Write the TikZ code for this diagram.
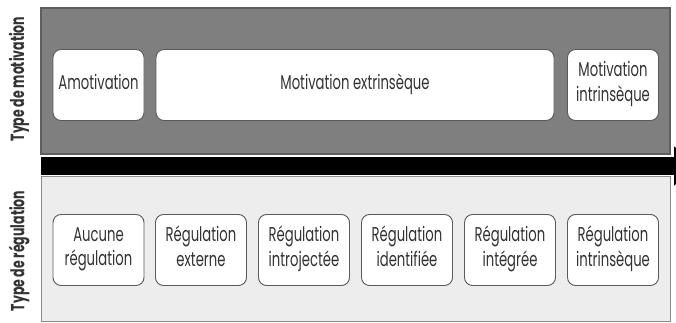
\documentclass[tikz,border=0pt]{standalone}
\usepackage{fontspec}
\setmainfont[FakeStretch=0.66]{Poppins}
\usepackage{xcolor}
\usepackage{tikz}
\usetikzlibrary{arrows.meta}
\definecolor{ink}{HTML}{333333}
\definecolor{bandtop}{HTML}{7F7F7F}
\definecolor{bandtopline}{HTML}{5E5E5E}
\definecolor{bandlow}{HTML}{EDEDED}
\definecolor{bandlowline}{HTML}{8C8C8C}
\definecolor{cellline}{HTML}{5A5A5A}
\tikzset{
  topband/.style={fill=bandtop, draw=bandtopline, line width=1.2pt},
  lowband/.style={fill=bandlow, draw=bandlowline, line width=0.9pt},
  cell/.style={draw=cellline, fill=white, rounded corners=8pt, line width=0.9pt,
    minimum height=71pt, inner sep=0pt, align=center, text=ink,
    font=\fontsize{20}{24.5}\selectfont,
    execute at begin node=\strut, execute at end node=\strut},
  side/.style={rotate=90, text=ink, font=\bfseries\fontsize{19}{22}\selectfont},
  flow/.style={draw=black, line width=18pt, -{Triangle[length=22pt,width=38pt]}},
}
\begin{document}
\begin{tikzpicture}[x=1pt,y=-1pt]
  \useasboundingbox (0,0) rectangle (676,323);
  % bands
  \draw[topband] (41,8) rectangle (670,154);
  \draw[lowband] (41,176) rectangle (670,321);
  \coordinate (flowstart) at (41,166);
  \coordinate (flowend) at (696,166);
  \draw[flow] (flowstart) -- (flowend);
  % side labels
  \node[side] (typemot) at (19,79) {Type de motivation};
  \node[side] (typereg) at (19,251) {Type de régulation};
  % type of motivation
  \node[cell, minimum width=91pt]  (amot) at (98.5,85) {Amotivation};
  \node[cell, minimum width=398pt] (extr) at (355,85) {Motivation extrinsèque};
  \node[cell, minimum width=91pt]  (intr) at (613,85) {Motivation\\intrinsèque};
  % type of regulation
  \node[cell, minimum width=91pt] (regnone) at (98.5,250) {Aucune\\régulation};
  \node[cell, minimum width=91pt] (regext)  at (201,250)  {Régulation\\externe};
  \node[cell, minimum width=91pt] (regintro) at (304,250) {Régulation\\introjectée};
  \node[cell, minimum width=91pt] (regid)   at (407,250)  {Régulation\\identifiée};
  \node[cell, minimum width=91pt] (regint)  at (510,250)  {Régulation\\intégrée};
  \node[cell, minimum width=91pt] (regintr) at (613,250)  {Régulation\\intrinsèque};
\end{tikzpicture}
\end{document}
